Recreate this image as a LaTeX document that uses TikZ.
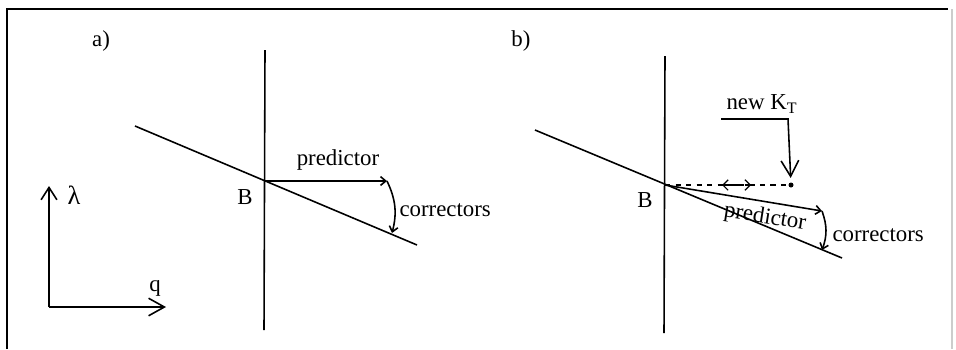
\documentclass[tikz,border=0pt]{standalone}
\usepackage{fontspec}
\setmainfont{Liberation Serif}
\usetikzlibrary{arrows.meta, positioning}
\tikzset{
  every picture/.style={line width=0.9pt},
  lbl/.style={font=\fontsize{13}{15}\selectfont, inner sep=1pt},
  bigbarb/.style={-{Straight Barb[length=9pt, width=10pt]}},
  smallbarb/.style={-{Straight Barb[length=3pt, width=5pt]}},
}

\begin{document}
\begin{tikzpicture}[x=0.02cm, y=-0.02cm]
  \useasboundingbox (0,0) rectangle (956,349);
  % frame
  \draw (7,349) -- (7,9) -- (948,9);
  \draw[gray!40] (952,9) -- (952,349);

  % panel a)
  \node[lbl] (tagA) at (101,41) {a)};
  \coordinate (Ba) at (265,181);
  \coordinate (va1) at (265,50);  \coordinate (va2) at (264,330);
  \coordinate (la1) at (135,126); \coordinate (la2) at (417,245);
  \coordinate (pa) at (387,181);  \coordinate (ca) at (392,233);
  \draw (va1) -- (va2);
  \draw (la1) -- (la2);
  \draw[smallbarb] (Ba) -- (pa);
  \draw[smallbarb] (pa) to[bend left=20] (ca);
  \node[lbl] (predA) at (338,160) {predictor};
  \node[lbl, anchor=west] (corrA) at (397,210) {correctors};
  \node[lbl] (labBa) at (245,197) {B};
  % axes
  \coordinate (O) at (49,307);
  \coordinate (lam) at (49,186);
  \coordinate (qq) at (166,307);
  \draw[-{Straight Barb[length=7pt, width=9pt]}] (O) -- (lam);
  \draw[bigbarb] (O) -- (qq);
  \node[lbl, font=\fontsize{15}{17}\selectfont] (labLam) at (74,195) {λ};
  \node[lbl] (labQ) at (155,288) {q};

  % panel b)
  \node[lbl] (tagB) at (521,41) {b)};
  \coordinate (Bb) at (665,185);
  \coordinate (vb1) at (665,56);  \coordinate (vb2) at (664,333);
  \coordinate (lb1) at (535,130); \coordinate (lb2) at (842,258);
  \coordinate (pb) at (822,211);  \coordinate (cb) at (822,250);
  \coordinate (dot) at (791,185);
  \draw (vb1) -- (vb2);
  \draw (lb1) -- (lb2);
  \draw[smallbarb] (Bb) -- (pb);
  \draw[smallbarb] (pb) to[bend left=20] (cb);
  \node[lbl, rotate=-9] (predB) at (765,218) {predictor};
  \node[lbl, anchor=west] (corrB) at (830,235) {correctors};
  \node[lbl] (labBb) at (645,200) {B};
  \draw[dashed, line width=0.7pt] (Bb) -- (dot);
  \coordinate (da1) at (722,185); \coordinate (da2) at (751,185);
  \draw[dashed, line width=0.7pt, {Straight Barb[length=3pt, width=6pt]}-{Straight Barb[length=3pt, width=6pt]}] (da1) -- (da2);
  \fill (dot) circle (2.5);
  % new K_T
  \node[lbl] (newK) at (762,104) {new K\textsubscript{T}};
  \coordinate (ku1) at (721,119); \coordinate (ku2) at (788,119);
  \draw[bigbarb, shorten >=4pt] (ku1) -- (ku2) -- (dot);
\end{tikzpicture}
\end{document}
